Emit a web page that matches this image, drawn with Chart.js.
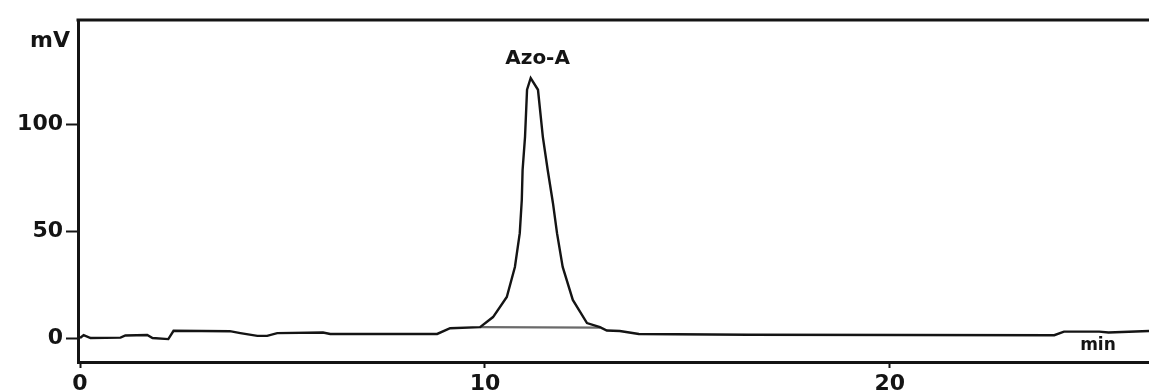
<!DOCTYPE html>
<html>
<head>
<meta charset="utf-8">
<script src="https://cdn.jsdelivr.net/npm/chart.js@4.4.1/dist/chart.umd.min.js"></script>
<style>
  html, body { margin: 0; padding: 0; background: #ffffff; }
  #wrap { width: 1149px; height: 391px; }
</style>
</head>
<body>
<div id="wrap"><canvas id="c" width="1149" height="391"></canvas></div>
<script>
// ---- data ----
const timeMin = [
  0.00, 0.09, 0.26, 1.00, 1.12, 1.66, 1.79, 2.18, 2.31, 3.70, 3.96, 4.38, 4.62, 4.87, 6.00, 6.18,
  8.82, 9.14, 9.88, 10.20, 10.54, 10.74, 10.86, 10.91, 10.93, 10.99, 11.04, 11.13, 11.31,
  11.43, 11.55, 11.68, 11.78, 11.92, 12.17, 12.52, 12.84, 13.01, 13.33, 13.80, 16.50,
  24.06, 24.30, 25.17, 25.40, 26.40
];
const signalMv = [
  0.0, 1.4, 0.0, 0.2, 1.2, 1.4, 0.0, -0.5, 3.4, 3.2, 2.3, 1.0, 1.0, 2.3, 2.6, 1.9,
  1.9, 4.6, 5.1, 9.8, 19.2, 33.2, 49.0, 64.5, 78.5, 94.0, 116.0, 121.5, 116.0,
  94.0, 78.5, 63.0, 49.0, 33.2, 17.8, 7.0, 5.1, 3.5, 3.3, 1.9, 1.5,
  1.3, 3.0, 3.0, 2.6, 3.3
];
// integration baseline under the peak
const baselineTime = [9.88, 12.84];
const baselineMv = [5.1, 4.9];

const xTickValues = [0, 10, 20];
const yTickValues = [0, 50, 100];
const peakName = 'Azo-A';
const peakLabelAt = { x: 11.30, y: 130.4 };
const xUnit = 'min';
const yUnit = 'mV';

const trace = timeMin.map((t, i) => ({ x: t, y: signalMv[i] }));
const base = baselineTime.map((t, i) => ({ x: t, y: baselineMv[i] }));

const INK = '#141414';
const FONT = '"DejaVu Sans", sans-serif';

const decor = {
  id: 'decor',
  afterDraw(chart) {
    const { ctx, chartArea, scales } = chart;
    const xs = scales.x, ys = scales.y;
    ctx.save();
    // top frame line
    ctx.strokeStyle = INK;
    ctx.lineWidth = 3;
    ctx.beginPath();
    ctx.moveTo(chartArea.left - 1.5, chartArea.top);
    ctx.lineTo(chart.width, chartArea.top);
    ctx.stroke();
    ctx.fillStyle = INK;
    // peak label
    ctx.font = 'bold 20px ' + FONT;
    ctx.textAlign = 'center';
    ctx.textBaseline = 'middle';
    ctx.fillText(peakName, xs.getPixelForValue(peakLabelAt.x), ys.getPixelForValue(peakLabelAt.y));
    // unit labels
    ctx.font = 'bold 17px ' + FONT;
    ctx.fillText(xUnit, xs.getPixelForValue(25.14), ys.getPixelForValue(-3.6));
    ctx.font = 'bold 22px ' + FONT;
    ctx.textAlign = 'right';
    ctx.fillText(yUnit, chartArea.left - 8, ys.getPixelForValue(138.5));
    ctx.restore();
  }
};

new Chart(document.getElementById('c'), {
  type: 'scatter',
  data: {
    datasets: [
      {
        data: base,
        showLine: true,
        borderColor: '#6a6a6a',
        borderWidth: 2.2,
        pointRadius: 0,
        order: 2
      },
      {
        data: trace,
        showLine: true,
        borderColor: INK,
        borderWidth: 2.4,
        pointRadius: 0,
        tension: 0,
        order: 1
      }
    ]
  },
  options: {
    responsive: false,
    animation: false,
    devicePixelRatio: 1,
    layout: { padding: { top: 20, left: 0, right: 0, bottom: 0 } },
    plugins: { legend: { display: false }, tooltip: { enabled: false } },
    scales: {
      x: {
        type: 'linear',
        min: -0.05,
        max: 26.4,
        afterBuildTicks(s) { s.ticks = xTickValues.map(v => ({ value: v })); },
        afterFit(s) { s.height = 29; },
        border: { display: true, color: INK, width: 3 },
        grid: { drawOnChartArea: false, drawTicks: true, tickLength: 6, tickColor: INK, tickWidth: 2 },
        ticks: {
          color: INK,
          padding: 3,
          autoSkip: false,
          maxRotation: 0,
          font: { family: FONT, size: 22, weight: 'bold' },
          callback: v => String(v)
        }
      },
      y: {
        type: 'linear',
        min: -11.2,
        max: 148.6,
        afterBuildTicks(s) { s.ticks = yTickValues.map(v => ({ value: v })); },
        afterFit(s) { s.width = 78; },
        border: { display: true, color: INK, width: 3 },
        grid: { drawOnChartArea: false, drawTicks: true, tickLength: 12, tickColor: INK, tickWidth: 2 },
        ticks: {
          color: INK,
          padding: 3,
          font: { family: FONT, size: 22, weight: 'bold' },
          callback: v => String(v)
        }
      }
    }
  },
  plugins: [decor]
});
</script>
</body>
</html>
